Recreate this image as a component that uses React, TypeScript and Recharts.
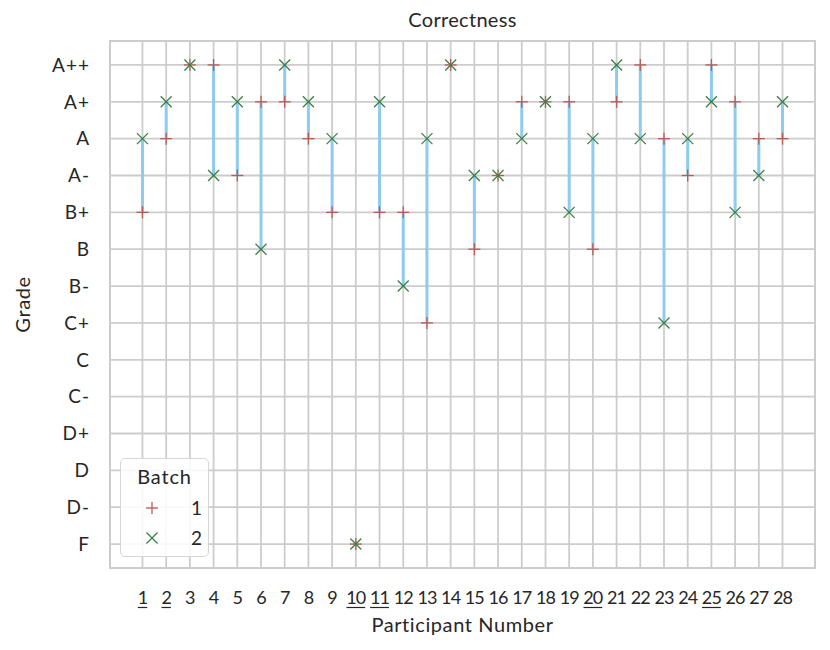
import React from 'react';
import { ComposedChart, Scatter, XAxis, YAxis, CartesianGrid, ReferenceArea } from 'recharts';

const participants = [1, 2, 3, 4, 5, 6, 7, 8, 9, 10, 11, 12, 13, 14, 15, 16, 17, 18, 19, 20, 21, 22, 23, 24, 25, 26, 27, 28];
const underlined = [1, 2, 10, 11, 20, 25];
const gradeLabels = ['F', 'D-', 'D', 'D+', 'C-', 'C', 'C+', 'B-', 'B', 'B+', 'A-', 'A', 'A+', 'A++'];
const gradeTicks = [0, 1, 2, 3, 4, 5, 6, 7, 8, 9, 10, 11, 12, 13];
// grade index per participant (index into gradeLabels)
const batch1 = [9, 11, 13, 13, 10, 12, 12, 11, 9, 0, 9, 9, 6, 13, 8, 10, 12, 12, 12, 8, 12, 13, 11, 10, 13, 12, 11, 11];
const batch2 = [11, 12, 13, 10, 12, 8, 13, 12, 11, 0, 12, 7, 11, 13, 10, 10, 11, 12, 9, 11, 13, 11, 6, 11, 12, 9, 10, 12];

const FONT = 'Lato, "DejaVu Sans", sans-serif';
const TEXT = '#262626';
const GRID = '#cccccc';
const RED = '#b85a55';
const GREEN = '#3a7f45';
const BLUE = '#8ecbef';

const X_DOMAIN: [number, number] = [1 - 1.37, 28 + 1.37];
const Y_DOMAIN: [number, number] = [-0.65, 13.65];

const b1Data = participants.map((p, i) => ({ x: p, y: batch1[i] }));
const b2Data = participants.map((p, i) => ({ x: p, y: batch2[i] }));
const segments = participants.map((p, i) => [
  { x: p, y: batch1[i] },
  { x: p, y: batch2[i] },
]);

const Plus = (props: any) => {
  const { cx, cy } = props;
  if (cx == null || cy == null) return <g />;
  const r = 6;
  return (
    <g stroke={RED} strokeWidth={1.3}>
      <line x1={cx - r} y1={cy} x2={cx + r} y2={cy} />
      <line x1={cx} y1={cy - r} x2={cx} y2={cy + r} />
    </g>
  );
};

const Cross = (props: any) => {
  const { cx, cy } = props;
  if (cx == null || cy == null) return <g />;
  const r = 5.5;
  return (
    <g stroke={GREEN} strokeWidth={1.3}>
      <line x1={cx - r} y1={cy - r} x2={cx + r} y2={cy + r} />
      <line x1={cx - r} y1={cy + r} x2={cx + r} y2={cy - r} />
    </g>
  );
};

const NoDot = () => <g />;

const XTick = (props: any) => {
  const { x, y, payload } = props;
  const label = String(payload.value);
  const under = underlined.includes(payload.value);
  const w = label.length * 9.4;
  return (
    <g>
      <text x={x} y={y + 26} textAnchor="middle" fill={TEXT} fontSize={18} letterSpacing={-0.9} fontFamily={FONT}>
        {label}
      </text>
      {under && <line x1={x - w / 2} x2={x + w / 2} y1={y + 29.5} y2={y + 29.5} stroke={TEXT} strokeWidth={1.2} />}
    </g>
  );
};

export default function App() {
  return (
    <div style={{ position: 'absolute', left: 0, top: 0, width: 830, height: 650, background: '#fff' }}>
      <div
        style={{
          position: 'absolute',
          left: 110,
          width: 705,
          top: 7,
          textAlign: 'center',
          fontFamily: FONT,
          fontSize: 20,
          letterSpacing: 0.3,
          color: TEXT,
        }}
      >
        Correctness
      </div>
      <ComposedChart
        width={830}
        height={650}
        margin={{ top: 41, right: 15, bottom: 0, left: 0 }}
      >
        <CartesianGrid stroke={GRID} strokeWidth={1.8} />
        <ReferenceArea
          x1={X_DOMAIN[0]}
          x2={X_DOMAIN[1]}
          y1={Y_DOMAIN[0]}
          y2={Y_DOMAIN[1]}
          fill="none"
          stroke={GRID}
          strokeWidth={2}
          fillOpacity={0}
        />
        <XAxis
          type="number"
          dataKey="x"
          domain={X_DOMAIN}
          ticks={participants}
          interval={0}
          allowDataOverflow
          axisLine={false}
          tickLine={false}
          tickSize={0}
          tickMargin={10}
          height={82}
          tick={<XTick />}
          label={{
            value: 'Participant Number',
            position: 'insideBottom',
            offset: 18,
            fill: TEXT,
            fontSize: 20,
            letterSpacing: 0.6,
            fontFamily: FONT,
          }}
        />
        <YAxis
          type="number"
          dataKey="y"
          domain={Y_DOMAIN}
          ticks={gradeTicks}
          interval={0}
          allowDataOverflow
          axisLine={false}
          tickLine={false}
          tickSize={0}
          tickMargin={20}
          width={110}
          tickFormatter={(v: number) => gradeLabels[v]}
          tick={{ fill: TEXT, fontSize: 19, fontFamily: FONT, letterSpacing: 1 }}
          label={{
            value: 'Grade',
            angle: -90,
            position: 'insideLeft',
            offset: 23,
            fill: TEXT,
            fontSize: 20,
            letterSpacing: 0.6,
            fontFamily: FONT,
            style: { textAnchor: 'middle' },
          }}
        />
        {segments.map((seg, i) => (
          <Scatter
            key={'seg' + i}
            data={seg}
            line={{ stroke: BLUE, strokeWidth: 3 }}
            shape={NoDot}
            isAnimationActive={false}
          />
        ))}
        <Scatter data={b1Data} shape={Plus} isAnimationActive={false} />
        <Scatter data={b2Data} shape={Cross} isAnimationActive={false} />
      </ComposedChart>
      <div
        style={{
          position: 'absolute',
          left: 120,
          top: 458,
          width: 89,
          height: 99,
          border: '1.5px solid #d6d6d6',
          borderRadius: 5,
          background: 'rgba(255,255,255,0.85)',
          fontFamily: FONT,
          color: TEXT,
          fontSize: 19,
          boxSizing: 'border-box',
        }}
      >
        <div style={{ position: 'absolute', top: 5, left: 0, width: '100%', textAlign: 'center', fontSize: 20, letterSpacing: 0.8 }}>Batch</div>
        <svg style={{ position: 'absolute', left: 23, top: 41 }} width={16} height={16}>
          <g stroke={RED} strokeWidth={1.3}>
            <line x1={2} y1={8} x2={14} y2={8} />
            <line x1={8} y1={2} x2={8} y2={14} />
          </g>
        </svg>
        <div style={{ position: 'absolute', left: 70, top: 37 }}>1</div>
        <svg style={{ position: 'absolute', left: 23, top: 71 }} width={16} height={16}>
          <g stroke={GREEN} strokeWidth={1.3}>
            <line x1={2.5} y1={2.5} x2={13.5} y2={13.5} />
            <line x1={2.5} y1={13.5} x2={13.5} y2={2.5} />
          </g>
        </svg>
        <div style={{ position: 'absolute', left: 70, top: 67 }}>2</div>
      </div>
    </div>
  );
}
